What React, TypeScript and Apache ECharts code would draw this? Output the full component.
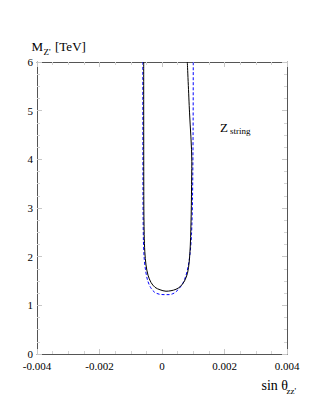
import React, { useEffect, useRef } from "react";
import * as echarts from "echarts";

// Black solid curve (sin theta, M_Z' in TeV)
const blackX = [
  -0.000586, -0.000582, -0.00057, -0.00055, -0.000512, -0.000448, -0.000352, -0.000224,
  -0.000064, 0.000128, 0.000288, 0.000448, 0.000592, 0.00072, 0.000816, 0.00087,
  0.000906, 0.000934, 0.00095, 0.000954, 0.00088, 0.00081,
];
const blackM = [
  6.0, 3.17, 2.45, 2.1, 1.83, 1.62, 1.47, 1.37, 1.32, 1.29, 1.3, 1.33, 1.39, 1.5, 1.66,
  1.89, 2.24, 2.86, 3.68, 3.95, 4.97, 6.0,
];
// Blue dashed curve
const blueX = [
  -0.000614, -0.000608, -0.000595, -0.00057, -0.000528, -0.000464, -0.000368, -0.00024,
  -0.000096, 0.000064, 0.000224, 0.000384, 0.000528, 0.000656, 0.00076, 0.00084, 0.0009,
  0.000944, 0.000976, 0.000995, 0.001,
];
const blueM = [
  6.0, 3.17, 2.34, 1.97, 1.73, 1.52, 1.37, 1.27, 1.23, 1.22, 1.22, 1.25, 1.33, 1.44, 1.6,
  1.81, 2.08, 2.45, 3.17, 4.6, 6.0,
];

const xTicks = { min: -0.004, max: 0.004, interval: 0.002 };
const yTicks = { min: 0, max: 6, interval: 1 };

const FONT = "Liberation Serif";

export default function App() {
  const ref = useRef<HTMLDivElement>(null);
  useEffect(() => {
    if (!ref.current) return;
    const chart = echarts.init(ref.current, undefined, { renderer: "svg" });
    const zip = (xs: number[], ys: number[]) => xs.map((x, i) => [x, ys[i]]);
    const axisLine = { show: true, onZero: false, lineStyle: { color: "#555", width: 1 } };
    const axisTick = { show: true, inside: true, length: 5, lineStyle: { color: "#c8c8c8" } };
    const minorTick = { show: true, splitNumber: 4, length: 3, lineStyle: { color: "#d4d4d4" } };
    const label = { fontFamily: FONT, fontSize: 11, color: "#000" };
    const txt = (x: number, y: number, text: string, size: number) => ({
      type: "text",
      x,
      y,
      style: {
        text,
        fontFamily: FONT,
        fontSize: size,
        fill: "#000",
        textAlign: "left",
        textVerticalAlign: "middle",
      },
    });
    chart.setOption({
      animation: false,
      backgroundColor: "#fff",
      textStyle: { fontFamily: FONT },
      grid: { left: 37, right: 36, top: 62, bottom: 64 },
      xAxis: [
        {
          type: "value",
          ...xTicks,
          axisLine,
          axisTick,
          minorTick,
          splitLine: { show: false },
          axisLabel: {
            ...label,
            margin: 6,
            formatter: (v: number) => (Math.abs(v) < 1e-12 ? "0" : v.toFixed(3)),
          },
        },
        {
          type: "value",
          position: "top",
          ...xTicks,
          axisLine,
          axisTick,
          minorTick,
          splitLine: { show: false },
          axisLabel: { show: false },
        },
      ],
      yAxis: [
        {
          type: "value",
          ...yTicks,
          axisLine,
          axisTick,
          minorTick,
          splitLine: { show: false },
          axisLabel: { ...label, margin: 4 },
        },
        {
          type: "value",
          position: "right",
          ...yTicks,
          axisLine,
          axisTick,
          minorTick,
          splitLine: { show: false },
          axisLabel: { show: false },
        },
      ],
      series: [
        {
          type: "line",
          data: zip(blueX, blueM),
          showSymbol: false,
          smooth: 0.3,
          lineStyle: { color: "#0000ff", width: 1, type: [3, 2] },
        },
        {
          type: "line",
          data: zip(blackX, blackM),
          showSymbol: false,
          smooth: 0.3,
          lineStyle: { color: "#000", width: 1 },
        },
      ],
      graphic: [
        txt(31.5, 46, "M", 13),
        txt(43.5, 52, "Z'", 9),
        txt(55, 46, "[TeV]", 13),
        txt(261.5, 385.5, "sin θ", 14),
        txt(286.5, 390.5, "zz'", 9),
        txt(220, 127.5, "Z", 13),
        txt(230, 130.5, "string", 9),
      ],
    });
    return () => chart.dispose();
  }, []);
  return (
    <div
      ref={ref}
      style={{ position: "absolute", left: 0, top: 0, width: 323, height: 418 }}
    />
  );
}
